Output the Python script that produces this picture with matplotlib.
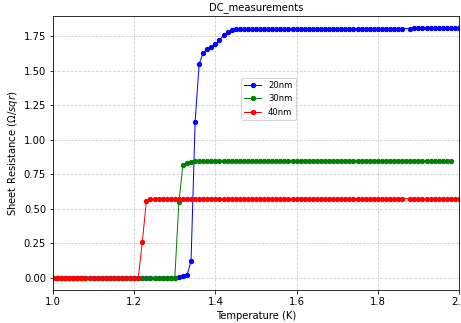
import numpy as np
import matplotlib.pyplot as plt

# temperature grid (K), 0.01 K steps
temp = [round(1.0 + 0.01 * i, 2) for i in range(101)]

r_20nm = [0.0] * 30 + [
    0.0, 0.005, 0.008, 0.017, 0.12, 1.13, 1.55, 1.63, 1.656, 1.672,
    1.69, 1.72, 1.757, 1.783, 1.795, 1.800, 1.801, 1.801, 1.802, 1.802,
    1.802, 1.803, 1.803, 1.803, 1.803, 1.804, 1.804, 1.804, 1.804, 1.804,
    1.805, 1.805, 1.805, 1.805, 1.805, 1.805, 1.805, 1.805, 1.805, 1.805,
    1.805, 1.805, 1.805, 1.805, 1.805, 1.805, 1.805, 1.805, 1.805, 1.805,
    1.805, 1.805, 1.805, 1.805, 1.805, 1.805, 1.805, 1.805, 1.805, 1.806,
    1.806, 1.806, 1.806, 1.806, 1.806, 1.806, 1.806, 1.806, 1.806, 1.806,
    1.806]

r_30nm = [0.0] * 31 + [
    0.545, 0.817, 0.834, 0.840, 0.842, 0.842, 0.843, 0.843, 0.843,
    0.843, 0.843, 0.844, 0.844, 0.844, 0.844, 0.844, 0.844, 0.844, 0.844,
    0.844, 0.844, 0.844, 0.844, 0.844, 0.845, 0.845, 0.845, 0.845, 0.845,
    0.845, 0.845, 0.845, 0.845, 0.845, 0.845, 0.845, 0.845, 0.845, 0.845,
    0.845, 0.845, 0.845, 0.845, 0.845, 0.845, 0.845, 0.845, 0.845, 0.845,
    0.845, 0.845, 0.845, 0.845, 0.845, 0.845, 0.845, 0.845, 0.845, 0.845,
    0.845, 0.845, 0.845, 0.845, 0.846, 0.846, 0.846, 0.846, 0.846]

r_40nm = [0.0] * 22 + [
    0.26, 0.557, 0.569, 0.571, 0.572, 0.572, 0.572, 0.572, 0.572, 0.572,
    0.572, 0.572, 0.573, 0.573, 0.573, 0.573, 0.573, 0.573, 0.573, 0.573,
    0.573, 0.573, 0.573, 0.573, 0.573, 0.573, 0.573, 0.573, 0.573, 0.573,
    0.573, 0.573, 0.573, 0.573, 0.573, 0.573, 0.573, 0.573, 0.573, 0.573,
    0.573, 0.573, 0.573, 0.573, 0.573, 0.573, 0.573, 0.573, 0.573, 0.573,
    0.573, 0.573, 0.573, 0.573, 0.573, 0.573, 0.573, 0.573, 0.573, 0.573,
    0.573, 0.573, 0.573, 0.573, 0.573, 0.573, 0.573, 0.573, 0.573, 0.573,
    0.573, 0.573, 0.573, 0.573, 0.573, 0.573, 0.573, 0.573, 0.573]

# a few missing readings near 1.87 K; 30nm run stops at 1.98 K
t20 = [t for t in temp if t != 1.87]
r20 = [r for t, r in zip(temp, r_20nm) if t != 1.87]
t30 = temp[:99]
r30 = r_30nm[:99]
t40 = [t for t in temp if t != 1.87]
r40 = [r for t, r in zip(temp, r_40nm) if t != 1.87]

fig, ax = plt.subplots(figsize=(461 / 72, 323 / 72), dpi=72)
fig.subplots_adjust(left=0.115, right=0.9957, top=0.9505, bottom=0.102)

ax.plot(t20, r20, "o-", color="b", markersize=4.3, linewidth=1, label="20nm")
ax.plot(t30, r30, "o-", color="g", markersize=4.3, linewidth=1, label="30nm")
ax.plot(t40, r40, "o-", color="r", markersize=4.3, linewidth=1, label="40nm")

ax.set_xlim(1.0, 2.0)
ax.set_title("DC_measurements", fontsize=10)
ax.set_xlabel("Temperature (K)")
ax.set_ylabel(r"Sheet Resistance ($\Omega/sqr$)")
ax.grid(which="both", linestyle="--", color="#cccccc")
ax.legend(loc="upper left", bbox_to_anchor=(0.452, 0.79), fontsize=8.5)

fig.savefig("out.png", dpi=72)
